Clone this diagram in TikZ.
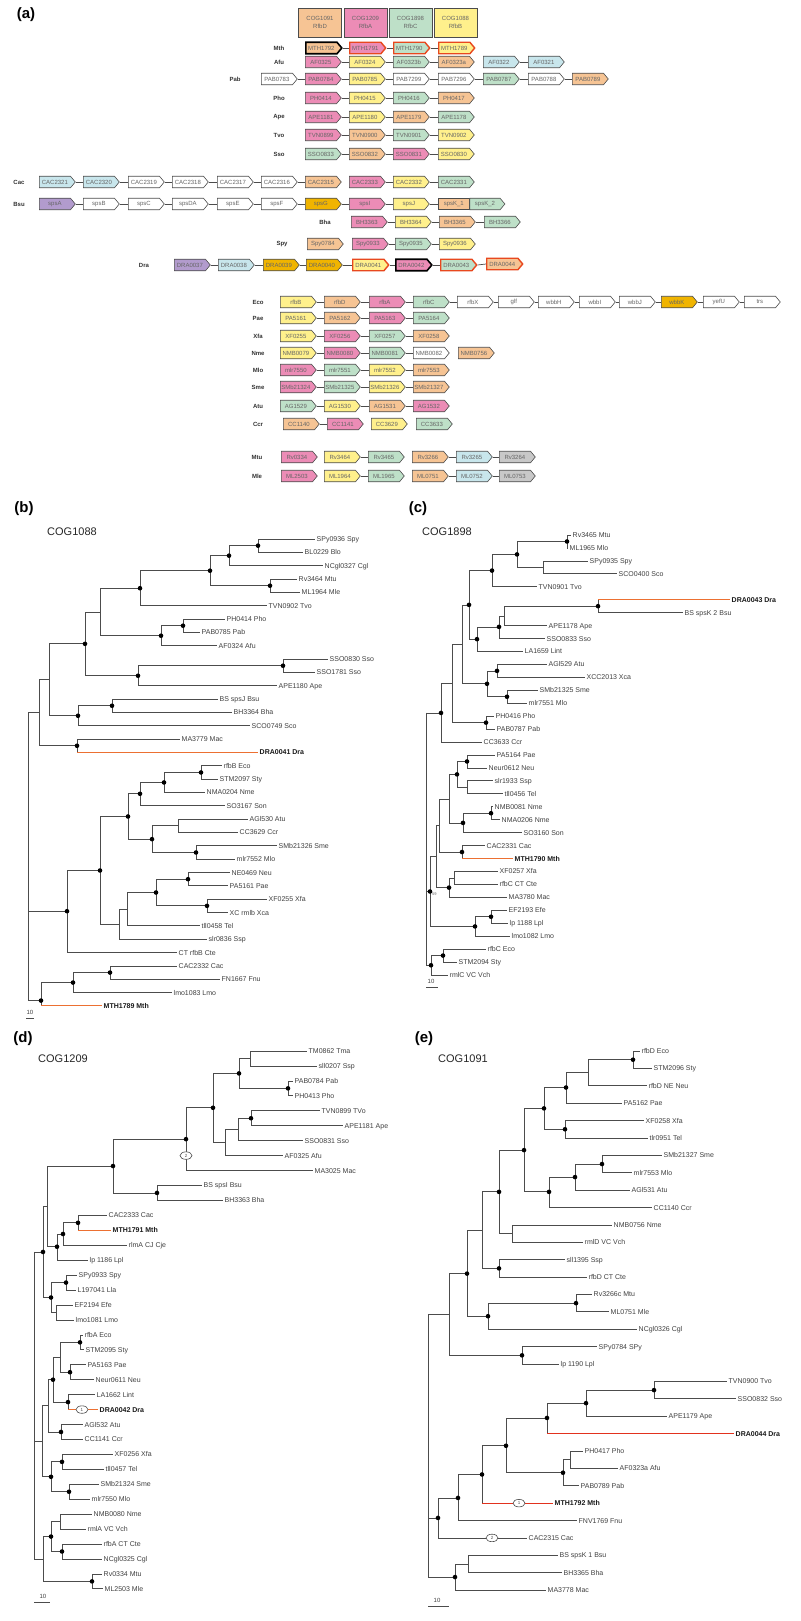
\documentclass[tikz,border=0pt]{standalone}
\usepackage{fontspec}
\setmainfont{Liberation Sans}
\usetikzlibrary{shapes.symbols,shapes.geometric}
\definecolor{corange}{RGB}{246,196,148}
\definecolor{cpink}{RGB}{236,140,182}
\definecolor{cgreen}{RGB}{190,224,200}
\definecolor{cyellow}{RGB}{255,240,140}
\definecolor{clblue}{RGB}{200,230,236}
\definecolor{cpurple}{RGB}{178,155,205}
\definecolor{cgold}{RGB}{240,180,0}
\definecolor{cgray}{RGB}{200,200,200}
\definecolor{cred}{RGB}{232,72,30}
\definecolor{horange}{RGB}{236,112,50}
\definecolor{hred}{RGB}{226,50,30}
\newcommand\gn[6][]{\node[gene,fill=#5,#1] (#2) at (#3,#4) {#6};}
\newcommand\lk[2]{\draw[link] (#1.east) -- (#2.west);}
\newcommand\tleaf[5][leaf]{\coordinate (#2) at (#3,\tyb+\tys*#4);\node[#1] (#2t) at (#2) {#5};}
\newcommand\tint[3]{\coordinate (#1) at (#2,\tyb+\tys*#3);}
\newcommand\te[2]{\draw[br] (#1) |- (#2);}
\newcommand\thl[3]{\draw[br] (#2) -- (#2 |- #3);\draw[#1] (#2 |- #3) -- (#3);}
\newcommand\tdots[1]{\foreach \q in {#1}{\fill[black] (\q) circle (2.3pt);}}
\begin{document}
\begin{tikzpicture}[x=1pt,y=-1pt,
  gene/.style={shape=signal,signal to=east,signal pointer angle=100,draw=black!70,line width=0.6pt,minimum width=36pt,minimum height=11.5pt,inner sep=0pt,anchor=west,font=\fontsize{6}{6}\selectfont,text=black!60},
  genebox/.style={rectangle,draw=black!70,line width=0.6pt,minimum width=31pt,minimum height=11.5pt,inner sep=0pt,anchor=west,font=\fontsize{6}{6}\selectfont,text=black!60},
  bk/.style={line width=1.6pt,draw=black},
  rd/.style={line width=1.4pt,draw=cred},
  link/.style={draw=black!70,line width=0.7pt},
  rowlab/.style={font=\bfseries\fontsize{6}{7}\selectfont,text=black!80,inner sep=0pt},
  cog/.style={rectangle,draw=black!70,line width=0.7pt,minimum width=43pt,minimum height=29pt,align=center,font=\fontsize{6}{7.5}\selectfont,text=black!60,inner sep=0pt},
  panel/.style={font=\bfseries\fontsize{15}{16}\selectfont,inner sep=0pt},
  ttl/.style={font=\fontsize{11}{12}\selectfont,text=black!85,inner sep=0pt},
  br/.style={draw=black!70,line width=0.75pt},
  hlo/.style={draw=horange,line width=1.1pt},
  hlr/.style={draw=hred,line width=1.1pt},
  leaf/.style={anchor=west,inner xsep=1.5pt,inner ysep=0pt,text height=5pt,text depth=0pt,font=\fontsize{7}{8}\selectfont,text=black!75},
  leafb/.style={leaf,font=\bfseries\fontsize{7}{8}\selectfont,text=black!90},
  oval/.style={ellipse,draw=black!70,line width=0.6pt,fill=white,minimum width=12pt,minimum height=7.5pt,inner sep=0pt,font=\fontsize{4.5}{5}\selectfont,text=black!70},
  sbar/.style={font=\fontsize{6}{6}\selectfont,text=black!75,inner sep=0pt},
]
\fill[white] (0,0) rectangle (800,1621);
\useasboundingbox (0,0) rectangle (800,1621);

% ================= panel (a) =================
\node[panel] (pA) at (26,15) {(a)};
\node[cog,fill=corange] (h1) at (320,22.5) {COG1091\\RfbD};
\node[cog,fill=cpink] (h2) at (365.5,22.5) {COG1209\\RfbA};
\node[cog,fill=cgreen] (h3) at (410.5,22.5) {COG1898\\RfbC};
\node[cog,fill=cyellow] (h4) at (455.5,22.5) {COG1088\\RfbB};

\node[rowlab] (lMth) at (279,48) {Mth};
\gn[bk]{m1}{305}{48}{corange}{MTH1792}
\gn[rd]{m2}{349}{48}{cpink}{MTH1791}
\gn[rd]{m3}{393}{48}{cgreen}{MTH1790}
\gn[rd]{m4}{438}{48}{cyellow}{MTH1789}
\lk{m1}{m2}\lk{m2}{m3}\lk{m3}{m4}

\node[rowlab] (lAfu) at (279,62) {Afu};
\gn{a1}{305}{62}{cpink}{AF0325}
\gn{a2}{349}{62}{cyellow}{AF0324}
\gn{a3}{393}{62}{cgreen}{AF0323b}
\gn{a4}{438}{62}{corange}{AF0323a}
\gn{a5}{483}{62}{clblue}{AF0322}
\gn{a6}{528}{62}{clblue}{AF0321}
\lk{a1}{a2}\lk{a2}{a3}\lk{a3}{a4}\lk{a5}{a6}

\node[rowlab] (lPab) at (235,79) {Pab};
\gn{p1}{261}{79}{white}{PAB0783}
\gn{p2}{305}{79}{cpink}{PAB0784}
\gn{p3}{349}{79}{cyellow}{PAB0785}
\gn{p4}{393}{79}{white}{PAB7299}
\gn{p5}{438}{79}{white}{PAB7296}
\gn{p6}{483}{79}{cgreen}{PAB0787}
\gn{p7}{528}{79}{white}{PAB0788}
\gn{p8}{572}{79}{corange}{PAB0789}
\lk{p1}{p2}\lk{p2}{p3}\lk{p3}{p4}\lk{p4}{p5}\lk{p5}{p6}\lk{p6}{p7}\lk{p7}{p8}

\node[rowlab] (lPho) at (279,98) {Pho};
\gn{ph1}{305}{98}{cpink}{PH0414}
\gn{ph2}{349}{98}{cyellow}{PH0415}
\gn{ph3}{393}{98}{cgreen}{PH0416}
\gn{ph4}{438}{98}{corange}{PH0417}
\lk{ph1}{ph2}\lk{ph2}{ph3}\lk{ph3}{ph4}

\node[rowlab] (lApe) at (279,117) {Ape};
\gn{ap1}{305}{117}{cpink}{APE1181}
\gn{ap2}{349}{117}{cyellow}{APE1180}
\gn{ap3}{393}{117}{corange}{APE1179}
\gn{ap4}{438}{117}{cgreen}{APE1178}
\lk{ap1}{ap2}\lk{ap2}{ap3}\lk{ap3}{ap4}

\node[rowlab] (lTvo) at (279,135) {Tvo};
\gn{tv1}{305}{135}{cpink}{TVN0899}
\gn{tv2}{349}{135}{corange}{TVN0900}
\gn{tv3}{393}{135}{cgreen}{TVN0901}
\gn{tv4}{438}{135}{cyellow}{TVN0902}
\lk{tv1}{tv2}\lk{tv2}{tv3}\lk{tv3}{tv4}

\node[rowlab] (lSso) at (279,154) {Sso};
\gn{ss1}{305}{154}{cgreen}{SSO0833}
\gn{ss2}{349}{154}{corange}{SSO0832}
\gn{ss3}{393}{154}{cpink}{SSO0831}
\gn{ss4}{438}{154}{cyellow}{SSO0830}
\lk{ss1}{ss2}\lk{ss2}{ss3}\lk{ss3}{ss4}

\node[rowlab] (lCac) at (19,182) {Cac};
\gn{cc1}{39}{182}{clblue}{CAC2321}
\gn{cc2}{83}{182}{clblue}{CAC2320}
\gn{cc3}{128}{182}{white}{CAC2319}
\gn{cc4}{172}{182}{white}{CAC2318}
\gn{cc5}{217}{182}{white}{CAC2317}
\gn{cc6}{261}{182}{white}{CAC2316}
\gn{cc7}{305}{182}{corange}{CAC2315}
\gn{cc8}{349}{182}{cpink}{CAC2333}
\gn{cc9}{393}{182}{cyellow}{CAC2332}
\gn{cc10}{438}{182}{cgreen}{CAC2331}
\lk{cc1}{cc2}\lk{cc2}{cc3}\lk{cc3}{cc4}\lk{cc4}{cc5}\lk{cc5}{cc6}\lk{cc6}{cc7}\lk{cc8}{cc9}\lk{cc9}{cc10}

\node[rowlab] (lBsu) at (19,204) {Bsu};
\gn{bs1}{39}{204}{cpurple}{spsA}
\gn{bs2}{83}{204}{white}{spsB}
\gn{bs3}{128}{204}{white}{spsC}
\gn{bs4}{172}{204}{white}{spsDA}
\gn{bs5}{217}{204}{white}{spsE}
\gn{bs6}{261}{204}{white}{spsF}
\gn{bs7}{305}{204}{cgold}{spsG}
\gn{bs8}{349}{204}{cpink}{spsI}
\gn{bs9}{393}{204}{cyellow}{spsJ}
\node[genebox,fill=corange] (bs10) at (438,204) {spsK\_1};
\node[gene,fill=cgreen,minimum width=35pt] (bs11) at (bs10.east) {spsK\_2};
\lk{bs1}{bs2}\lk{bs2}{bs3}\lk{bs3}{bs4}\lk{bs4}{bs5}\lk{bs5}{bs6}\lk{bs6}{bs7}\lk{bs7}{bs8}\lk{bs8}{bs9}\lk{bs9}{bs10}

\node[rowlab] (lBha) at (325,222) {Bha};
\gn{bh1}{351}{222}{cpink}{BH3363}
\gn{bh2}{395}{222}{cyellow}{BH3364}
\gn{bh3}{439}{222}{corange}{BH3365}
\gn{bh4}{484}{222}{cgreen}{BH3366}
\lk{bh1}{bh2}\lk{bh2}{bh3}\lk{bh3}{bh4}

\node[rowlab] (lSpy) at (282,244) {Spy};
\gn{sp1}{307}{244}{corange}{Spy0784}
\gn{sp2}{352}{244}{cpink}{Spy0933}
\gn{sp3}{395}{244}{cgreen}{Spy0935}
\gn{sp4}{439}{244}{cyellow}{Spy0936}
\lk{sp2}{sp3}\lk{sp3}{sp4}

\node[rowlab] (lDra) at (144,265) {Dra};
\gn{dr1}{174}{265}{cpurple}{DRA0037}
\gn{dr2}{218}{265}{clblue}{DRA0038}
\gn{dr3}{263}{265}{cgold}{DRA0039}
\gn{dr4}{306}{265}{cgold}{DRA0040}
\gn[rd]{dr5}{352}{265}{cyellow}{DRA0041}
\gn[bk]{dr6}{395}{265}{cpink}{DRA0042}
\gn[rd]{dr7}{440}{265}{cgreen}{DRA0043}
\gn[rd]{dr8}{486}{264}{corange}{DRA0044}
\lk{dr1}{dr2}\lk{dr2}{dr3}\lk{dr3}{dr4}\lk{dr4}{dr5}\lk{dr5}{dr6}\lk{dr6}{dr7}\lk{dr7}{dr8}

\node[rowlab] (lEco) at (258,302) {Eco};
\gn{ec1}{280}{302}{cyellow}{rfbB}
\gn{ec2}{324}{302}{corange}{rfbD}
\gn{ec3}{369}{302}{cpink}{rfbA}
\gn{ec4}{413}{302}{cgreen}{rfbC}
\gn{ec5}{457}{302}{white}{rfbX}
\gn{ec6}{498}{302}{white}{glf}
\gn{ec7}{538}{302}{white}{wbbH}
\gn{ec8}{579}{302}{white}{wbbI}
\gn{ec9}{619}{302}{white}{wbbJ}
\gn{ec10}{661}{302}{cgold}{wbbK}
\gn{ec11}{703}{302}{white}{yefU}
\gn{ec12}{744}{302}{white}{trs}
\lk{ec1}{ec2}\lk{ec2}{ec3}\lk{ec3}{ec4}\lk{ec4}{ec5}\lk{ec5}{ec6}\lk{ec6}{ec7}\lk{ec7}{ec8}\lk{ec8}{ec9}\lk{ec9}{ec10}\lk{ec10}{ec11}\lk{ec11}{ec12}

\node[rowlab] (lPae) at (258,318) {Pae};
\gn{pa1}{280}{318}{cyellow}{PA5161}
\gn{pa2}{324}{318}{corange}{PA5162}
\gn{pa3}{369}{318}{cpink}{PA5163}
\gn{pa4}{413}{318}{cgreen}{PA5164}
\lk{pa1}{pa2}\lk{pa2}{pa3}\lk{pa3}{pa4}

\node[rowlab] (lXfa) at (258,336) {Xfa};
\gn{xf1}{280}{336}{cyellow}{XF0255}
\gn{xf2}{324}{336}{cpink}{XF0256}
\gn{xf3}{369}{336}{cgreen}{XF0257}
\gn{xf4}{413}{336}{corange}{XF0258}
\lk{xf1}{xf2}\lk{xf2}{xf3}\lk{xf3}{xf4}

\node[rowlab] (lNme) at (258,353) {Nme};
\gn{nm1}{280}{353}{cyellow}{NMB0079}
\gn{nm2}{324}{353}{cpink}{NMB0080}
\gn{nm3}{369}{353}{cgreen}{NMB0081}
\gn{nm4}{413}{353}{white}{NMB0082}
\gn{nm5}{458}{353}{corange}{NMB0756}
\lk{nm1}{nm2}\lk{nm2}{nm3}\lk{nm3}{nm4}

\node[rowlab] (lMlo) at (258,370) {Mlo};
\gn{ml1}{280}{370}{cpink}{mlr7550}
\gn{ml2}{324}{370}{cgreen}{mlr7551}
\gn{ml3}{369}{370}{cyellow}{mlr7552}
\gn{ml4}{413}{370}{corange}{mlr7553}
\lk{ml1}{ml2}\lk{ml2}{ml3}\lk{ml3}{ml4}

\node[rowlab] (lSme) at (258,387) {Sme};
\gn{sm1}{280}{387}{cpink}{SMb21324}
\gn{sm2}{324}{387}{cgreen}{SMb21325}
\gn{sm3}{369}{387}{cyellow}{SMb21326}
\gn{sm4}{413}{387}{corange}{SMb21327}
\lk{sm1}{sm2}\lk{sm2}{sm3}\lk{sm3}{sm4}

\node[rowlab] (lAtu) at (258,406) {Atu};
\gn{at1}{280}{406}{cgreen}{AG1529}
\gn{at2}{324}{406}{cyellow}{AG1530}
\gn{at3}{369}{406}{corange}{AG1531}
\gn{at4}{413}{406}{cpink}{AG1532}
\lk{at1}{at2}\lk{at2}{at3}\lk{at3}{at4}

\node[rowlab] (lCcr) at (258,424) {Ccr};
\gn{cr1}{283}{424}{corange}{CC1140}
\gn{cr2}{327}{424}{cpink}{CC1141}
\gn{cr3}{371}{424}{cyellow}{CC3629}
\gn{cr4}{416}{424}{cgreen}{CC3633}
\lk{cr1}{cr2}

\node[rowlab] (lMtu) at (257,457) {Mtu};
\gn{mt1}{281}{457}{cpink}{Rv0334}
\gn{mt2}{324}{457}{cyellow}{Rv3464}
\gn{mt3}{368}{457}{cgreen}{Rv3465}
\gn{mt4}{412}{457}{corange}{Rv3266}
\gn{mt5}{456}{457}{clblue}{Rv3265}
\gn{mt6}{499}{457}{cgray}{Rv3264}
\lk{mt2}{mt3}\lk{mt4}{mt5}\lk{mt5}{mt6}

\node[rowlab] (lMle) at (257,476) {Mle};
\gn{me1}{281}{476}{cpink}{ML2503}
\gn{me2}{324}{476}{cyellow}{ML1964}
\gn{me3}{368}{476}{cgreen}{ML1965}
\gn{me4}{412}{476}{corange}{ML0751}
\gn{me5}{456}{476}{clblue}{ML0752}
\gn{me6}{499}{476}{cgray}{ML0753}
\lk{me2}{me3}\lk{me4}{me5}\lk{me5}{me6}

% ================= panel (b) =================
\node[panel] (pB) at (24,509) {(b)};
\node[ttl] (tB) at (72,532) {COG1088};
\def\tyb{539}\def\tys{13.34}
\tleaf{bl0}{315}{0}{SPy0936 Spy}
\tleaf{bl1}{303}{1}{BL0229 Blo}
\tleaf{bl2}{323}{2}{NCgl0327 Cgl}
\tleaf{bl3}{297}{3}{Rv3464 Mtu}
\tleaf{bl4}{300}{4}{ML1964 Mle}
\tleaf{bl5}{267}{5}{TVN0902 Tvo}
\tleaf{bl6}{225}{6}{PH0414 Pho}
\tleaf{bl7}{200}{7}{PAB0785 Pab}
\tleaf{bl8}{217}{8}{AF0324 Afu}
\tleaf{bl9}{328}{9}{SSO0830 Sso}
\tleaf{bl10}{315}{10}{SSO1781 Sso}
\tleaf{bl11}{277}{11}{APE1180 Ape}
\tleaf{bl12}{218}{12}{BS spsJ Bsu}
\tleaf{bl13}{232}{13}{BH3364 Bha}
\tleaf{bl14}{250}{14}{SCO0749 Sco}
\tleaf{bl15}{180}{15}{MA3779 Mac}
\tleaf[leafb]{bl16}{258}{16}{DRA0041 Dra}
\tleaf{bl17}{222}{17}{rfbB Eco}
\tleaf{bl18}{218}{18}{STM2097 Sty}
\tleaf{bl19}{205}{19}{NMA0204 Nme}
\tleaf{bl20}{225}{20}{SO3167 Son}
\tleaf{bl21}{248}{21}{AGl530 Atu}
\tleaf{bl22}{238}{22}{CC3629 Ccr}
\tleaf{bl23}{277}{23}{SMb21326 Sme}
\tleaf{bl24}{235}{24}{mlr7552 Mlo}
\tleaf{bl25}{230}{25}{NE0469 Neu}
\tleaf{bl26}{228}{26}{PA5161 Pae}
\tleaf{bl27}{267}{27}{XF0255 Xfa}
\tleaf{bl28}{228}{28}{XC rmlb Xca}
\tleaf{bl29}{200}{29}{tll0458 Tel}
\tleaf{bl30}{207}{30}{slr0836 Ssp}
\tleaf{bl31}{177}{31}{CT rfbB Cte}
\tleaf{bl32}{177}{32}{CAC2332 Cac}
\tleaf{bl33}{220}{33}{FN1667 Fnu}
\tleaf{bl34}{172}{34}{lmo1083 Lmo}
\tleaf[leafb]{bl35}{102}{35}{MTH1789 Mth}
\tint{bSB}{258}{0.5}\te{bSB}{bl0}\te{bSB}{bl1}
\tint{bB}{229}{1.25}\te{bB}{bSB}\te{bB}{bl2}
\tint{bRM}{270}{3.5}\te{bRM}{bl3}\te{bRM}{bl4}
\tint{bA}{210}{2.375}\te{bA}{bB}\te{bA}{bRM}
\tint{bC}{140}{3.69}\te{bC}{bA}\te{bC}{bl5}
\tint{bPP}{183}{6.5}\te{bPP}{bl6}\te{bPP}{bl7}
\tint{bF1}{161}{7.25}\te{bF1}{bPP}\te{bF1}{bl8}
\tint{bD}{100}{5.47}\te{bD}{bC}\te{bD}{bF1}
\tint{bSS}{283}{9.5}\te{bSS}{bl9}\te{bSS}{bl10}
\tint{bF}{138}{10.25}\te{bF}{bSS}\te{bF}{bl11}
\tint{bE}{85}{7.86}\te{bE}{bD}\te{bE}{bF}
\tint{bBB}{112}{12.5}\te{bBB}{bl12}\te{bBB}{bl13}
\tint{bG}{78}{13.25}\te{bG}{bBB}\te{bG}{bl14}
\tint{bH}{49}{10.55}\te{bH}{bE}\te{bH}{bG}
\tint{bJ}{77}{15.5}\te{bJ}{bl15}\thl{hlo}{bJ}{bl16}
\tint{bI}{39}{13.0}\te{bI}{bH}\te{bI}{bJ}
\tint{bRS}{201}{17.5}\te{bRS}{bl17}\te{bRS}{bl18}
\tint{bU}{164}{18.25}\te{bU}{bRS}\te{bU}{bl19}
\tint{bS}{140}{19.1}\te{bS}{bU}\te{bS}{bl20}
\tint{bV}{178}{21.5}\te{bV}{bl21}\te{bV}{bl22}
\tint{bW}{196}{23.5}\te{bW}{bl23}\te{bW}{bl24}
\tint{bT}{152}{22.5}\te{bT}{bV}\te{bT}{bW}
\tint{bN}{128}{20.8}\te{bN}{bS}\te{bN}{bT}
\tint{bNP}{188}{25.5}\te{bNP}{bl25}\te{bNP}{bl26}
\tint{bXX}{207}{27.5}\te{bXX}{bl27}\te{bXX}{bl28}
\tint{bR}{156}{26.5}\te{bR}{bNP}\te{bR}{bXX}
\tint{bQ}{127}{27.75}\te{bQ}{bR}\te{bQ}{bl29}
\tint{bP}{119}{28.9}\te{bP}{bQ}\te{bP}{bl30}
\tint{bM}{100}{24.85}\te{bM}{bN}\te{bM}{bP}
\tint{bK}{67}{27.9}\te{bK}{bM}\te{bK}{bl31}
\tint{bY}{110}{32.5}\te{bY}{bl32}\te{bY}{bl33}
\tint{bX}{73}{33.25}\te{bX}{bY}\te{bX}{bl34}
\tint{bL}{41}{34.6}\te{bL}{bX}\thl{hlo}{bL}{bl35}
\tint{bRoot}{28}{13.0}\te{bRoot}{bI}\te{bRoot}{bK}\te{bRoot}{bL}
\tdots{bSB,bB,bRM,bA,bC,bPP,bF1,bSS,bF,bE,bBB,bG,bJ,bRS,bU,bS,bW,bT,bN,bNP,bXX,bR,bM,bK,bY,bX,bL}
\node[sbar] (sb1) at (30,1012) {10};
\draw[br] (26,1018) -- (34,1018);

% ================= panel (c) =================
\node[panel] (pC) at (418,509) {(c)};
\node[ttl] (tC) at (447,532) {COG1898};
\def\tyb{535}\def\tys{12.94}
\tleaf{cl0}{571}{0}{Rv3465 Mtu}
\tleaf{cl1}{568}{1}{ML1965 Mlo}
\tleaf{cl2}{588}{2}{SPy0935 Spy}
\tleaf{cl3}{617}{3}{SCO0400 Sco}
\tleaf{cl4}{537}{4}{TVN0901 Tvo}
\tleaf[leafb]{cl5}{730}{5}{DRA0043 Dra}
\tleaf{cl6}{683}{6}{BS spsK 2 Bsu}
\tleaf{cl7}{547}{7}{APE1178 Ape}
\tleaf{cl8}{545}{8}{SSO0833 Sso}
\tleaf{cl9}{523}{9}{LA1659 Lint}
\tleaf{cl10}{547}{10}{AGl529 Atu}
\tleaf{cl11}{585}{11}{XCC2013 Xca}
\tleaf{cl12}{538}{12}{SMb21325 Sme}
\tleaf{cl13}{527}{13}{mlr7551 Mlo}
\tleaf{cl14}{494}{14}{PH0416 Pho}
\tleaf{cl15}{495}{15}{PAB0787 Pab}
\tleaf{cl16}{482}{16}{CC3633 Ccr}
\tleaf{cl17}{495}{17}{PA5164 Pae}
\tleaf{cl18}{487}{18}{Neur0612 Neu}
\tleaf{cl19}{493}{19}{slr1933 Ssp}
\tleaf{cl20}{503}{20}{tll0456 Tel}
\tleaf{cl21}{493}{21}{NMB0081 Nme}
\tleaf{cl22}{500}{22}{NMA0206 Nme}
\tleaf{cl23}{522}{23}{SO3160 Son}
\tleaf{cl24}{485}{24}{CAC2331 Cac}
\tleaf[leafb]{cl25}{513}{25}{MTH1790 Mth}
\tleaf{cl26}{498}{26}{XF0257 Xfa}
\tleaf{cl27}{498}{27}{rfbC CT Cte}
\tleaf{cl28}{507}{28}{MA3780 Mac}
\tleaf{cl29}{507}{29}{EF2193 Efe}
\tleaf{cl30}{508}{30}{lp 1188 Lpl}
\tleaf{cl31}{510}{31}{lmo1082 Lmo}
\tleaf{cl32}{486}{32}{rfbC Eco}
\tleaf{cl33}{457}{33}{STM2094 Sty}
\tleaf{cl34}{448}{34}{rmlC VC Vch}
\tint{cRM}{567}{0.5}\te{cRM}{cl0}\te{cRM}{cl1}
\tint{cSS}{543}{2.5}\te{cSS}{cl2}\te{cSS}{cl3}
\tint{cQ}{517}{1.5}\te{cQ}{cRM}\te{cQ}{cSS}
\tint{cP}{492}{2.75}\te{cP}{cQ}\te{cP}{cl4}
\tint{cDB}{598}{5.5}\thl{hlo}{cDB}{cl5}\te{cDB}{cl6}
\tint{cG}{504}{6.25}\te{cG}{cDB}\te{cG}{cl7}
\tint{cF}{499}{7.1}\te{cF}{cG}\te{cF}{cl8}
\tint{cE}{477}{8.05}\te{cE}{cF}\te{cE}{cl9}
\tint{cD}{469}{5.4}\te{cD}{cP}\te{cD}{cE}
\tint{cAX}{497}{10.5}\te{cAX}{cl10}\te{cAX}{cl11}
\tint{cSM}{507}{12.5}\te{cSM}{cl12}\te{cSM}{cl13}
\tint{cJ}{487}{11.5}\te{cJ}{cAX}\te{cJ}{cSM}
\tint{cI}{462}{8.45}\te{cI}{cD}\te{cI}{cJ}
\tint{cPP}{486}{14.5}\te{cPP}{cl14}\te{cPP}{cl15}
\tint{cK}{452}{11.5}\te{cK}{cI}\te{cK}{cPP}
\tint{cL}{441}{13.75}\te{cL}{cK}\te{cL}{cl16}
\tint{cPN}{467}{17.5}\te{cPN}{cl17}\te{cPN}{cl18}
\tint{cST}{467}{19.5}\te{cST}{cl19}\te{cST}{cl20}
\tint{cPS}{457}{18.5}\te{cPS}{cPN}\te{cPS}{cST}
\tint{cNN}{491}{21.5}\te{cNN}{cl21}\te{cNN}{cl22}
\tint{cNS}{463}{22.25}\te{cNS}{cNN}\te{cNS}{cl23}
\tint{cMa}{449}{20.4}\te{cMa}{cPS}\te{cMa}{cNS}
\tint{cCM}{462}{24.5}\te{cCM}{cl24}\thl{hlo}{cCM}{cl25}
\tint{cMb}{439}{22.45}\te{cMb}{cMa}\te{cMb}{cCM}
\tint{cXR}{454}{26.5}\te{cXR}{cl26}\te{cXR}{cl27}
\tint{cXM}{449}{27.25}\te{cXM}{cXR}\te{cXM}{cl28}
\tint{cMc}{436}{24.85}\te{cMc}{cMb}\te{cMc}{cXM}
\tint{cEL}{491}{29.5}\te{cEL}{cl29}\te{cEL}{cl30}
\tint{cEM}{475}{30.25}\te{cEM}{cEL}\te{cEM}{cl31}
\tint{cMd}{430}{27.55}\te{cMd}{cMc}\te{cMd}{cEM}
\tint{cRS}{443}{32.5}\te{cRS}{cl32}\te{cRS}{cl33}
\tint{cRV}{431}{33.25}\te{cRV}{cRS}\te{cRV}{cl34}
\tint{cRoot}{426}{13.75}\te{cRoot}{cL}\te{cRoot}{cMd}\te{cRoot}{cRV}
\tdots{cRM,cQ,cP,cDB,cF,cE,cD,cAX,cSM,cJ,cPP,cL,cPN,cPS,cNN,cNS,cCM,cXM,cEL,cEM,cMd,cRS,cRV}
\node[anchor=west,inner sep=0pt,font=\fontsize{4}{4}\selectfont,text=black!60] (c59) at (432,894) {59};
\node[sbar] (sb2) at (431,981) {10};
\draw[br] (426,987) -- (438,987);

% ================= panel (d) =================
\node[panel] (pD) at (23,1039) {(d)};
\node[ttl] (tD) at (63,1059) {COG1209};
\def\tyb{1051}\def\tys{14.94}
\tleaf{dl0}{307}{0}{TM0862 Tma}
\tleaf{dl1}{317}{1}{sll0207 Ssp}
\tleaf{dl2}{293}{2}{PAB0784 Pab}
\tleaf{dl3}{293}{3}{PH0413 Pho}
\tleaf{dl4}{320}{4}{TVN0899 TVo}
\tleaf{dl5}{343}{5}{APE1181 Ape}
\tleaf{dl6}{303}{6}{SSO0831 Sso}
\tleaf{dl7}{283}{7}{AF0325 Afu}
\tleaf{dl8}{313}{8}{MA3025 Mac}
\tleaf{dl9}{202}{9}{BS spsI Bsu}
\tleaf{dl10}{223}{10}{BH3363 Bha}
\tleaf{dl11}{107}{11}{CAC2333 Cac}
\tleaf[leafb]{dl12}{111}{12}{MTH1791 Mth}
\tleaf{dl13}{127}{13}{rlmA CJ Cje}
\tleaf{dl14}{88}{14}{lp 1186 Lpl}
\tleaf{dl15}{77}{15}{SPy0933 Spy}
\tleaf{dl16}{76}{16}{L197041 Lla}
\tleaf{dl17}{73}{17}{EF2194 Efe}
\tleaf{dl18}{74}{18}{lmo1081 Lmo}
\tleaf{dl19}{83}{19}{rfbA Eco}
\tleaf{dl20}{84}{20}{STM2095 Sty}
\tleaf{dl21}{86}{21}{PA5163 Pae}
\tleaf{dl22}{94}{22}{Neur0611 Neu}
\tleaf{dl23}{95}{23}{LA1662 Lint}
\tleaf[leafb]{dl24}{98}{24}{DRA0042 Dra}
\tleaf{dl25}{83}{25}{AGl532 Atu}
\tleaf{dl26}{83}{26}{CC1141 Ccr}
\tleaf{dl27}{113}{27}{XF0256 Xfa}
\tleaf{dl28}{104}{28}{tll0457 Tel}
\tleaf{dl29}{99}{29}{SMb21324 Sme}
\tleaf{dl30}{90}{30}{mlr7550 Mlo}
\tleaf{dl31}{92}{31}{NMB0080 Nme}
\tleaf{dl32}{86}{32}{rmlA VC Vch}
\tleaf{dl33}{102}{33}{rfbA CT Cte}
\tleaf{dl34}{102}{34}{NCgl0325 Cgl}
\tleaf{dl35}{102}{35}{Rv0334 Mtu}
\tleaf{dl36}{103}{36}{ML2503 Mle}
\tint{dTS}{250}{0.5}\te{dTS}{dl0}\te{dTS}{dl1}
\tint{dPP}{288}{2.5}\te{dPP}{dl2}\te{dPP}{dl3}
\tint{dA}{239}{1.5}\te{dA}{dTS}\te{dA}{dPP}
\tint{dTA}{251}{4.5}\te{dTA}{dl4}\te{dTA}{dl5}
\tint{dB}{238}{5.25}\te{dB}{dTA}\te{dB}{dl6}
\tint{dC}{225}{6.1}\te{dC}{dB}\te{dC}{dl7}
\tint{dD}{213}{3.8}\te{dD}{dA}\te{dD}{dC}
\tint{dE}{186}{5.9}\te{dE}{dD}\te{dE}{dl8}
\tint{dBB}{157}{9.5}\te{dBB}{dl9}\te{dBB}{dl10}
\tint{dF}{113}{7.7}\te{dF}{dE}\te{dF}{dBB}
\tint{dCM}{78}{11.5}\te{dCM}{dl11}\thl{hlo}{dCM}{dl12}
\tint{dG}{63}{12.25}\te{dG}{dCM}\te{dG}{dl13}
\tint{dH}{57}{13.1}\te{dH}{dG}\te{dH}{dl14}
\tint{dI}{47}{10.4}\te{dI}{dF}\te{dI}{dH}
\tint{dSL}{66}{15.5}\te{dSL}{dl15}\te{dSL}{dl16}
\tint{dEL}{56}{17.5}\te{dEL}{dl17}\te{dEL}{dl18}
\tint{dJ}{51}{16.5}\te{dJ}{dSL}\te{dJ}{dEL}
\tint{dK}{43}{13.45}\te{dK}{dI}\te{dK}{dJ}
\tint{dRS}{80}{19.5}\te{dRS}{dl19}\te{dRS}{dl20}
\tint{dPN}{70}{21.5}\te{dPN}{dl21}\te{dPN}{dl22}
\tint{dM}{60}{20.5}\te{dM}{dRS}\te{dM}{dPN}
\tint{dLD}{68}{23.5}\te{dLD}{dl23}\thl{hlo}{dLD}{dl24}
\tint{dN}{53}{22}\te{dN}{dM}\te{dN}{dLD}
\tint{dAC}{61}{25.5}\te{dAC}{dl25}\te{dAC}{dl26}
\tint{dO}{48}{23.75}\te{dO}{dN}\te{dO}{dAC}
\tint{dXT}{62}{27.5}\te{dXT}{dl27}\te{dXT}{dl28}
\tint{dSM}{69}{29.5}\te{dSM}{dl29}\te{dSM}{dl30}
\tint{dP}{51}{28.5}\te{dP}{dXT}\te{dP}{dSM}
\tint{dQ}{42}{26.1}\te{dQ}{dO}\te{dQ}{dP}
\tint{dNR}{60}{31.5}\te{dNR}{dl31}\te{dNR}{dl32}
\tint{dRN}{62}{33.5}\te{dRN}{dl33}\te{dRN}{dl34}
\tint{dR}{51}{32.5}\te{dR}{dNR}\te{dR}{dRN}
\tint{dRM}{92}{35.5}\te{dRM}{dl35}\te{dRM}{dl36}
\tint{dS}{43}{34}\te{dS}{dR}\te{dS}{dRM}
\tint{dRoot}{34}{13.45}\te{dRoot}{dK}\te{dRoot}{dQ}\te{dRoot}{dS}
\tdots{dPP,dA,dTA,dD,dE,dBB,dF,dCM,dG,dH,dSL,dJ,dK,dRS,dPN,dLD,dN,dAC,dXT,dSM,dP,dRN,dR,dRM}
\node[oval] (od2) at (186,\tyb+\tys*7.0) {2};
\node[oval] (od1) at (82,\tyb+\tys*24) {1};
\node[sbar] (sb3) at (43,1596) {10};
\draw[br] (34,1602) -- (50,1602);

% ================= panel (e) =================
\node[panel] (pE) at (424,1039) {(e)};
\node[ttl] (tE) at (463,1059) {COG1091};
\def\tyb{1051}\def\tys{17.39}
\tleaf{el0}{640}{0}{rfbD Eco}
\tleaf{el1}{652}{1}{STM2096 Sty}
\tleaf{el2}{647}{2}{rfbD NE Neu}
\tleaf{el3}{622}{3}{PA5162 Pae}
\tleaf{el4}{644}{4}{XF0258 Xfa}
\tleaf{el5}{648}{5}{tlr0951 Tel}
\tleaf{el6}{662}{6}{SMb21327 Sme}
\tleaf{el7}{632}{7}{mlr7553 Mlo}
\tleaf{el8}{630}{8}{AGl531 Atu}
\tleaf{el9}{652}{9}{CC1140 Ccr}
\tleaf{el10}{612}{10}{NMB0756 Nme}
\tleaf{el11}{583}{11}{rmlD VC Vch}
\tleaf{el12}{565}{12}{sll1395 Ssp}
\tleaf{el13}{587}{13}{rfbD CT Cte}
\tleaf{el14}{592}{14}{Rv3266c Mtu}
\tleaf{el15}{609}{15}{ML0751 Mle}
\tleaf{el16}{637}{16}{NCgl0326 Cgl}
\tleaf{el17}{597}{17}{SPy0784 SPy}
\tleaf{el18}{559}{18}{lp 1190 Lpl}
\tleaf{el19}{727}{19}{TVN0900 Tvo}
\tleaf{el20}{736}{20}{SSO0832 Sso}
\tleaf{el21}{667}{21}{APE1179 Ape}
\tleaf[leafb]{el22}{734}{22}{DRA0044 Dra}
\tleaf{el23}{583}{23}{PH0417 Pho}
\tleaf{el24}{618}{24}{AF0323a Afu}
\tleaf{el25}{579}{25}{PAB0789 Pab}
\tleaf[leafb]{el26}{553}{26}{MTH1792 Mth}
\tleaf{el27}{577}{27}{FNV1769 Fnu}
\tleaf{el28}{527}{28}{CAC2315 Cac}
\tleaf{el29}{558}{29}{BS spsK 1 Bsu}
\tleaf{el30}{562}{30}{BH3365 Bha}
\tleaf{el31}{546}{31}{MA3778 Mac}
\tint{eRS}{633}{0.5}\te{eRS}{el0}\te{eRS}{el1}
\tint{eA}{588}{1.25}\te{eA}{eRS}\te{eA}{el2}
\tint{eB}{566}{2.1}\te{eB}{eA}\te{eB}{el3}
\tint{eXT}{565}{4.5}\te{eXT}{el4}\te{eXT}{el5}
\tint{eC}{544}{3.3}\te{eC}{eB}\te{eC}{eXT}
\tint{eSM}{602}{6.5}\te{eSM}{el6}\te{eSM}{el7}
\tint{eD}{575}{7.25}\te{eD}{eSM}\te{eD}{el8}
\tint{eE}{549}{8.1}\te{eE}{eD}\te{eE}{el9}
\tint{eF}{524}{5.7}\te{eF}{eC}\te{eF}{eE}
\tint{eNR}{512}{10.5}\te{eNR}{el10}\te{eNR}{el11}
\tint{eG}{499}{8.1}\te{eG}{eF}\te{eG}{eNR}
\tint{eSR}{499}{12.5}\te{eSR}{el12}\te{eSR}{el13}
\tint{eH}{482}{10.3}\te{eH}{eG}\te{eH}{eSR}
\tint{eRM}{576}{14.5}\te{eRM}{el14}\te{eRM}{el15}
\tint{eI}{488}{15.25}\te{eI}{eRM}\te{eI}{el16}
\tint{eJ}{467}{12.8}\te{eJ}{eH}\te{eJ}{eI}
\tint{eSL}{522}{17.5}\te{eSL}{el17}\te{eSL}{el18}
\tint{eK}{449}{15.15}\te{eK}{eJ}\te{eK}{eSL}
\tint{eTS}{654}{19.5}\te{eTS}{el19}\te{eTS}{el20}
\tint{eL}{586}{20.25}\te{eL}{eTS}\te{eL}{el21}
\tint{eM}{547}{21.1}\te{eM}{eL}\thl{hlr}{eM}{el22}
\tint{ePA}{570}{23.5}\te{ePA}{el23}\te{ePA}{el24}
\tint{eN}{563}{24.25}\te{eN}{ePA}\te{eN}{el25}
\tint{eO}{506}{22.7}\te{eO}{eM}\te{eO}{eN}
\tint{eP}{482}{24.35}\te{eP}{eO}\thl{hlr}{eP}{el26}
\tint{eQ}{458}{25.7}\te{eQ}{eP}\te{eQ}{el27}
\tint{eR}{438}{26.85}\te{eR}{eQ}\te{eR}{el28}
\tint{eBB}{468}{29.5}\te{eBB}{el29}\te{eBB}{el30}
\tint{eS}{455}{30.25}\te{eS}{eBB}\te{eS}{el31}
\tint{eRoot}{428}{15.15}\te{eRoot}{eK}\te{eRoot}{eR}\te{eRoot}{eS}
\tdots{eRS,eB,eXT,eC,eSM,eD,eE,eF,eG,eSR,eRM,eI,eJ,eSL,eTS,eL,eM,eN,eO,eP,eQ,eR,eS}
\node[oval] (oe1) at (519,\tyb+\tys*26) {1};
\node[oval] (oe2) at (492,\tyb+\tys*28) {2};
\node[sbar] (sb4) at (437,1600) {10};
\draw[br] (428,1606) -- (449,1606);
\end{tikzpicture}
\end{document}
